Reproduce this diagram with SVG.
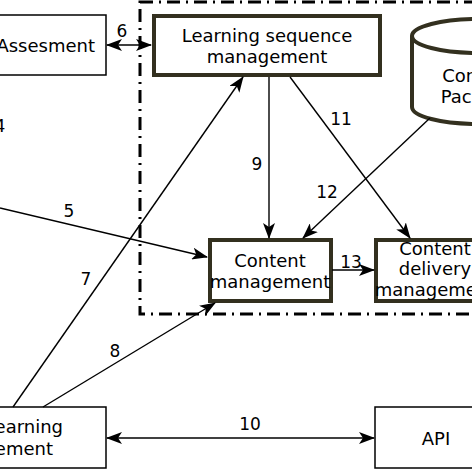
<svg xmlns="http://www.w3.org/2000/svg" width="472" height="472" viewBox="0 0 472 472">
<defs>
<marker id="ah" markerUnits="userSpaceOnUse" markerWidth="16" markerHeight="12" viewBox="0 0 16 12" refX="15" refY="6" orient="auto-start-reverse">
<path d="M0,0 L16,6 L0,12 L4,6 Z" fill="#000"/>
</marker>
<style>
text{font-family:"DejaVu Sans",sans-serif;font-size:18px;fill:#000}
.lbl{font-size:17px;text-anchor:middle}
.thin{fill:#fff;stroke:#000;stroke-width:1.5}
.thick{fill:#fff;stroke:#33301f;stroke-width:4}
.c{fill:none;stroke:#000;stroke-width:1.4}
.m{text-anchor:middle}
</style>
</defs>
<rect width="472" height="472" fill="#fff"/>
<rect x="140" y="2" width="400" height="312" fill="none" stroke="#000" stroke-width="3" stroke-dasharray="13 6 2 6"/>
<g id="assesment">
<rect class="thin" x="-20" y="15" width="126" height="60"/>
<text x="95" y="52" text-anchor="end">Assesment</text>
</g>
<g id="lsm">
<rect class="thick" x="154" y="16" width="226" height="59"/>
<text class="m" x="267" y="42">Learning sequence</text>
<text class="m" x="267" y="63">management</text>
</g>
<g id="packages">
<path class="thick" d="M412,36 L412,107 A66,17 0 0 0 544,107 L544,36 A66,17 0 0 0 412,36 A66,17 0 0 0 544,36"/>
<text class="m" x="478" y="82">Content</text>
<text class="m" x="478" y="103">Package</text>
</g>
<g id="cm">
<rect class="thick" x="210" y="240" width="121" height="61"/>
<text class="m" x="270" y="267">Content</text>
<text class="m" x="270" y="288">management</text>
</g>
<g id="cdm">
<rect class="thick" x="376" y="240" width="121" height="61"/>
<text class="m" x="435" y="255">Content</text>
<text class="m" x="435" y="275">delivery</text>
<text class="m" x="435" y="296">management</text>
</g>
<g id="lms">
<rect class="thin" x="-20" y="407" width="126" height="61"/>
<text x="63" y="433" text-anchor="end">Learning</text>
<text x="53" y="455" text-anchor="end">management</text>
</g>
<g id="api">
<rect class="thin" x="375" y="407" width="120" height="61"/>
<text class="m" x="436" y="445">API</text>
</g>
<g id="connectors">
<line class="c" x1="107" y1="45" x2="151" y2="45" marker-start="url(#ah)" marker-end="url(#ah)"/>
<line class="c" x1="0" y1="208" x2="207" y2="257" marker-end="url(#ah)"/>
<line class="c" x1="13" y1="407" x2="243" y2="77" marker-end="url(#ah)"/>
<line class="c" x1="43" y1="407" x2="215" y2="303" marker-end="url(#ah)"/>
<line class="c" x1="269" y1="77" x2="269" y2="238" marker-end="url(#ah)"/>
<line class="c" x1="107" y1="438" x2="374" y2="438" marker-start="url(#ah)" marker-end="url(#ah)"/>
<line class="c" x1="290" y1="77" x2="410" y2="238" marker-end="url(#ah)"/>
<line class="c" x1="430" y1="118" x2="303" y2="238" marker-end="url(#ah)"/>
<line class="c" x1="332" y1="270" x2="374" y2="270" marker-end="url(#ah)"/>
<text class="lbl" x="0" y="132">4</text>
<text class="lbl" x="69" y="217">5</text>
<text class="lbl" x="122" y="37">6</text>
<text class="lbl" x="86" y="285">7</text>
<text class="lbl" x="115" y="357">8</text>
<text class="lbl" x="257" y="170">9</text>
<text class="lbl" x="250" y="430">10</text>
<text class="lbl" x="341" y="125">11</text>
<text class="lbl" x="327" y="198">12</text>
<text class="lbl" x="351" y="268">13</text>
</g>
</svg>
